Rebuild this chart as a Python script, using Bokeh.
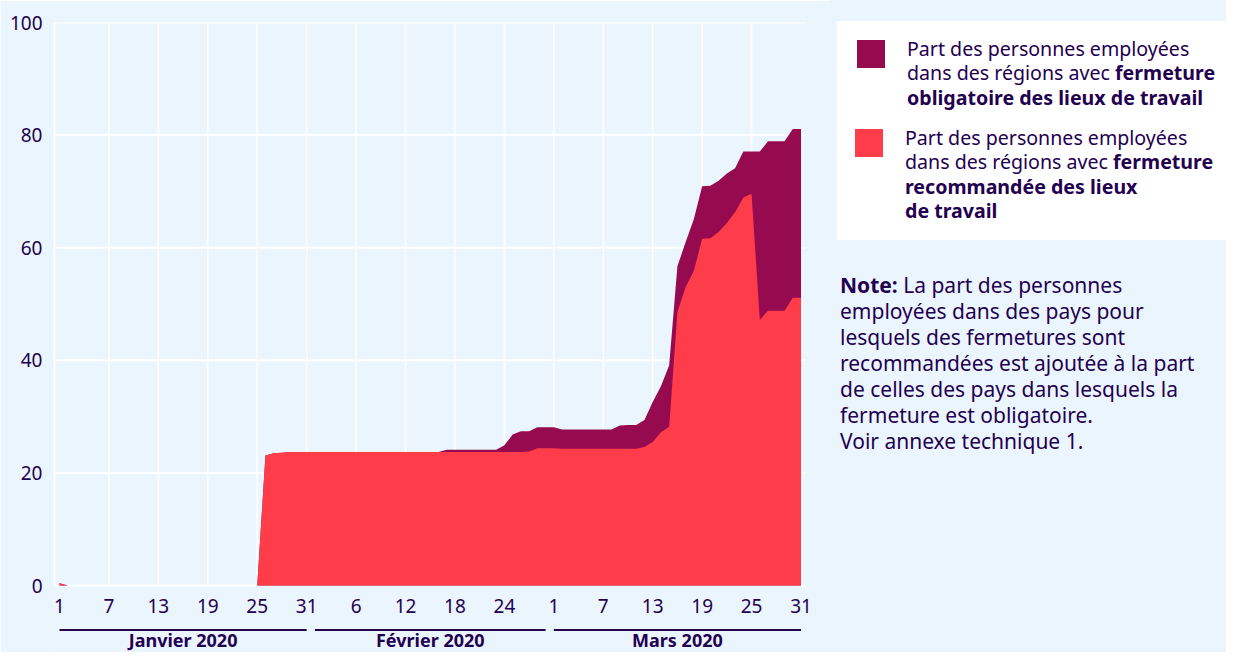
from bokeh.plotting import figure
from bokeh.models import Range1d, FixedTicker, Div
from bokeh.layouts import row
from bokeh.core.properties import value
from bokeh.embed import file_html
from bokeh.resources import INLINE

# ---------------- data ----------------
# day index 0 = 1 Jan 2020 ... 90 = 31 Mar 2020
rouge = [
    0.4, 0, 0, 0, 0, 0, 0, 0, 0, 0,              # 1-10 Jan
    0, 0, 0, 0, 0, 0, 0, 0, 0, 0,                # 11-20 Jan
    0, 0, 0, 0, 0, 23.1, 23.5, 23.6, 23.7, 23.7, # 21-30 Jan
    23.7, 23.7, 23.7, 23.7, 23.7, 23.7, 23.7, 23.7, 23.7, 23.7,  # 31 Jan - 9 Feb
    23.7, 23.7, 23.7, 23.7, 23.7, 23.7, 23.7, 23.7, 23.7, 23.7,  # 10-19 Feb
    23.7, 23.7, 23.7, 23.7, 23.7, 23.7, 23.7, 23.8, 24.4, 24.4,  # 20-29 Feb
    24.4, 24.3, 24.3, 24.3, 24.3, 24.3, 24.3, 24.3, 24.3, 24.3,  # 1-10 Mar
    24.3, 24.6, 25.5, 27.2, 28.2, 48.6, 53.0, 55.9, 61.6, 61.7,  # 11-20 Mar
    62.8, 64.4, 66.3, 68.9, 69.6, 47.2, 48.8, 48.8, 48.8, 51.1,  # 21-30 Mar
    51.1,                                                        # 31 Mar
]
total = [
    0.4, 0, 0, 0, 0, 0, 0, 0, 0, 0,
    0, 0, 0, 0, 0, 0, 0, 0, 0, 0,
    0, 0, 0, 0, 0, 23.1, 23.5, 23.6, 23.7, 23.7,
    23.7, 23.7, 23.7, 23.7, 23.7, 23.7, 23.7, 23.7, 23.7, 23.7,
    23.7, 23.7, 23.7, 23.7, 23.7, 23.7, 23.7, 24.1, 24.1, 24.1,
    24.1, 24.1, 24.1, 24.1, 24.9, 26.8, 27.4, 27.4, 28.1, 28.1,
    28.1, 27.7, 27.7, 27.7, 27.7, 27.7, 27.7, 27.7, 28.4, 28.5,
    28.5, 29.4, 32.6, 35.4, 39.1, 56.7, 61.0, 65.1, 70.9, 71.0,
    71.9, 73.2, 74.1, 77.1, 77.1, 77.1, 78.9, 78.9, 78.9, 81.1,
    81.1,
]
jours = list(range(len(rouge)))

tick_jours = [0, 6, 12, 18, 24, 30, 36, 42, 48, 54, 60, 66, 72, 78, 84, 90]
tick_labels = ["1", "7", "13", "19", "25", "31", "6", "12", "18", "24",
               "1", "7", "13", "19", "25", "31"]
y_ticks = [0, 20, 40, 60, 80, 100]

mois = ["Janvier 2020", "Février 2020", "Mars 2020"]
mois_debut = [0, 31, 60]
mois_fin = [30, 59, 90]
mois_centre = [15, 45, 75]

# ---------------- style ----------------
BG = "#EBF5FE"
RED = "#FE3C4A"
DARK = "#960A50"
TXT = "#230050"
FONT = "Noto Sans"

H = 652
PX = 5.63                    # pixels per percentage point
Y_MIN = -(H - 585) / PX      # frame bottom at the figure bottom
X0, X1 = -0.607, 93.58       # plotting zone spans -0.607 .. 90.546

fig = figure(width=830, height=H,
             x_range=Range1d(X0, X1), y_range=Range1d(Y_MIN, 100),
             output_backend="svg", toolbar_location=None,
             x_axis_location=None,
             min_border_left=54, min_border_right=0,
             min_border_top=22, min_border_bottom=0)
fig.background_fill_color = BG
fig.border_fill_color = BG
fig.outline_line_color = None
fig.xgrid.visible = False
fig.ygrid.visible = False

ax = fig.yaxis[0]
ax.ticker = FixedTicker(ticks=y_ticks)
ax.bounds = (0, 100)
ax.axis_line_color = "white"
ax.axis_line_width = 2
ax.major_tick_line_color = None
ax.minor_tick_line_color = None
ax.major_label_standoff = 6
ax.major_label_text_font = FONT
ax.major_label_text_font_size = "19px"
ax.major_label_text_color = TXT

# grid lines restricted to the plotting zone
XR = 90.546
fig.segment(x0=[X0] * len(y_ticks), y0=y_ticks, x1=[XR] * len(y_ticks), y1=y_ticks,
            line_color="white", line_width=2)
gx = tick_jours[1:-1]
fig.segment(x0=gx, y0=[0] * len(gx), x1=gx, y1=[100] * len(gx),
            line_color="white", line_width=1.5)

# areas
fig.varea(x=jours, y1=0, y2=total, fill_color=DARK)
fig.varea(x=jours, y1=0, y2=rouge, fill_color=RED)

# day tick labels
fig.text(x=tick_jours, y=[-(605 - 585) / PX] * len(tick_jours), text=tick_labels,
         text_font=value(FONT), text_font_size="19px", text_color=TXT,
         text_align="center", text_baseline="middle")

# month separators and labels
y_line = -(629.5 - 585) / PX
fig.segment(x0=mois_debut, y0=[y_line] * 3, x1=mois_fin, y1=[y_line] * 3,
            line_color=TXT, line_width=2)
y_mois = -(639.3 - 585) / PX
fig.text(x=mois_centre, y=[y_mois] * 3, text=mois,
         text_font=value(FONT), text_font_size="18px", text_color=TXT,
         text_font_style="bold", text_align="center",
         text_baseline="middle")

# ---------------- legend + note ----------------
html = f"""
<div style="position:relative;width:396px;height:{H}px;background:{BG};font-family:'{FONT}';color:{TXT};">
  <div style="position:absolute;left:7px;top:21px;width:389px;height:219px;background:#ffffff;"></div>
  <div style="position:absolute;left:27px;top:40px;width:28px;height:28px;background:{DARK};"></div>
  <div style="position:absolute;left:77px;top:36.5px;font-size:19.6px;line-height:24.6px;white-space:nowrap;">Part des personnes employées<br>dans des régions avec <b>fermeture<br>obligatoire des lieux de travail</b></div>
  <div style="position:absolute;left:25px;top:129px;width:28px;height:28px;background:{RED};"></div>
  <div style="position:absolute;left:75px;top:125.5px;font-size:19.6px;line-height:24.6px;white-space:nowrap;">Part des personnes employées<br>dans des régions avec <b>fermeture<br>recommandée des lieux<br>de travail</b></div>
  <div style="position:absolute;left:10px;top:272px;font-size:21px;line-height:26px;white-space:nowrap;"><b>Note:</b> La part des personnes<br>employées dans des pays pour<br>lesquels des fermetures sont<br>recommandées est ajoutée à la part<br>de celles des pays dans lesquels la<br>fermeture est obligatoire.<br>Voir annexe technique 1.</div>
</div>
"""
div = Div(text=html, width=396, height=H, margin=0)

p = row(fig, div)

open("out.html", "w").write(file_html(p, INLINE))
